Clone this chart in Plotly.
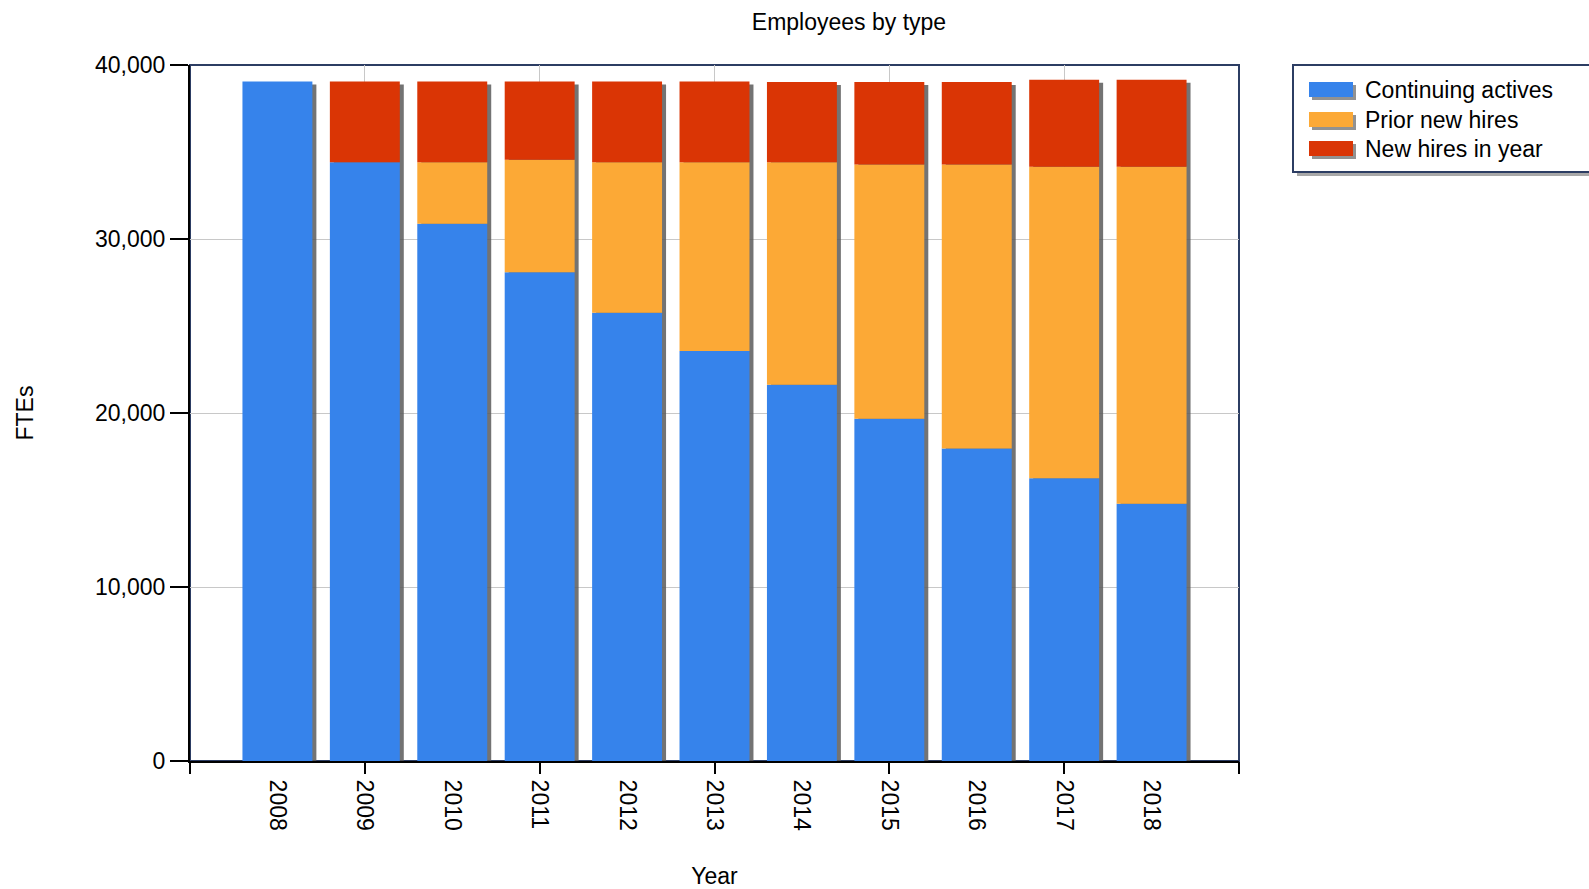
import plotly.graph_objects as go

years = [2008, 2009, 2010, 2011, 2012, 2013, 2014, 2015, 2016, 2017, 2018]
continuing = [39050, 34410, 30870, 28090, 25760, 23570, 21620, 19670, 17960, 16250, 14780]
prior_new = [0, 0, 3540, 6460, 8650, 10840, 12790, 14610, 16320, 17900, 19370]
new_in_year = [0, 4640, 4640, 4500, 4640, 4640, 4610, 4740, 4740, 5000, 5000]
series_names = ["Continuing actives", "Prior new hires", "New hires in year"]
y_ticks = [0, 10000, 20000, 30000, 40000]
grid_years = [2007, 2009, 2011, 2013, 2015, 2017, 2019]

C_BLUE = "#3683eb"
C_ORANGE = "#fca936"
C_RED = "#da3505"
colors = [C_BLUE, C_ORANGE, C_RED]
FONT = "Liberation Sans, Arial, sans-serif"
W, H = 1589, 889
L, R, T, B = 190, 350, 65, 128
px_per_x = (W - L - R) / 12.0
px_per_y = (H - T - B) / 40000.0

base_prior = [c for c in continuing]
base_new = [c + p for c, p in zip(continuing, prior_new)]
totals = [c + p + n for c, p, n in zip(continuing, prior_new, new_in_year)]

bw = 0.8
shadow_dx = 4 / px_per_x
shadow_dy = 3 / px_per_y

fig = go.Figure()
# drop shadow behind each bar
fig.add_trace(go.Bar(
    x=years, y=[t - shadow_dy for t in totals], base=0,
    width=bw, offset=-bw / 2 + shadow_dx,
    marker=dict(color="rgba(90,90,90,0.85)", line=dict(width=0)),
    showlegend=False, hoverinfo="skip", name="shadow"))
values = [continuing, prior_new, new_in_year]
bases = [[0] * len(years), base_prior, base_new]
for name, vals, base, col in zip(series_names, values, bases, colors):
    fig.add_trace(go.Bar(
        x=years, y=vals, base=base, width=bw, offset=-bw / 2,
        name=name, marker=dict(color=col, line=dict(width=0)),
        showlegend=False))
# helper trace so the secondary (grid/tick) axis is drawn
fig.add_trace(go.Scatter(x=[2007], y=[0], xaxis="x2", mode="markers",
                         marker=dict(opacity=0), showlegend=False, hoverinfo="skip"))


def px_to_paper_x(px):
    return (px - L) / (W - L - R)


def px_to_paper_y(py):
    return 1 - (py - T) / (H - T - B)


shapes = [
    # frame (top/right border in navy)
    dict(type="rect", xref="paper", yref="paper", x0=0, x1=1, y0=0, y1=1,
         line=dict(color="#2c3d63", width=2), layer="below"),
    # legend shadow and box
    dict(type="rect", xref="paper", yref="paper",
         x0=px_to_paper_x(1297), x1=px_to_paper_x(1600),
         y0=px_to_paper_y(176), y1=px_to_paper_y(69),
         line=dict(width=0), fillcolor="rgba(110,110,110,0.6)", layer="above"),
    dict(type="rect", xref="paper", yref="paper",
         x0=px_to_paper_x(1293), x1=px_to_paper_x(1600),
         y0=px_to_paper_y(172), y1=px_to_paper_y(65),
         line=dict(color="#2c3d63", width=2), fillcolor="white", layer="above"),
]
annotations = []
row_centers = [90, 120, 149]
for name, col, cy in zip(series_names, colors, row_centers):
    shapes.append(dict(type="rect", xref="paper", yref="paper",
                       x0=px_to_paper_x(1312), x1=px_to_paper_x(1356),
                       y0=px_to_paper_y(cy + 10), y1=px_to_paper_y(cy - 5),
                       line=dict(width=0), fillcolor="rgba(100,100,100,0.7)", layer="above"))
    shapes.append(dict(type="rect", xref="paper", yref="paper",
                       x0=px_to_paper_x(1309), x1=px_to_paper_x(1353),
                       y0=px_to_paper_y(cy + 7), y1=px_to_paper_y(cy - 8),
                       line=dict(width=0), fillcolor=col, layer="above"))
    annotations.append(dict(text=name, xref="paper", yref="paper",
                            x=px_to_paper_x(1363), y=px_to_paper_y(cy),
                            xanchor="left", yanchor="middle", showarrow=False,
                            font=dict(family=FONT, size=23, color="black")))

fig.update_layout(
    width=W, height=H,
    margin=dict(l=L, r=R, t=T, b=B, autoexpand=False),
    paper_bgcolor="white", plot_bgcolor="white",
    barmode="overlay",
    showlegend=False,
    font=dict(family=FONT, size=23, color="black"),
    title=dict(text="Employees by type", xref="container", yref="container",
               x=849 / W, y=1 - 22 / H, xanchor="center", yanchor="middle",
               font=dict(family=FONT, size=23, color="black")),
    xaxis=dict(
        range=[2007, 2019], tickmode="array", tickvals=years,
        ticktext=[str(y) for y in years], tickangle=90,
        ticks="outside", ticklen=12, tickcolor="rgba(0,0,0,0)",
        showgrid=False, zeroline=False,
        showline=True, linecolor="black", linewidth=2,
        title=dict(text="Year", standoff=43, font=dict(size=23)),
        tickfont=dict(size=23), fixedrange=True),
    xaxis2=dict(
        range=[2007, 2019], overlaying="x", anchor="y", side="bottom",
        tickmode="array", tickvals=grid_years, showticklabels=False,
        ticks="outside", ticklen=12, tickcolor="black", tickwidth=2,
        showgrid=True, gridcolor="#c8c8c8", gridwidth=1,
        showline=False, zeroline=False, layer="below traces"),
    yaxis=dict(
        range=[0, 40000], tickmode="array", tickvals=y_ticks,
        tickformat=",", ticks="outside", ticklen=18, tickcolor="black", tickwidth=2,
        showgrid=True, gridcolor="#c8c8c8", gridwidth=1,
        showline=True, linecolor="black", linewidth=2, zeroline=False,
        title=dict(text="FTEs", standoff=55, font=dict(size=23)),
        tickfont=dict(size=23)),
    shapes=shapes,
    annotations=annotations,
)

fig.write_html("out.html",
               config={"displayModeBar": False},
               post_script="document.body.style.margin='0';document.body.style.overflow='hidden';")
